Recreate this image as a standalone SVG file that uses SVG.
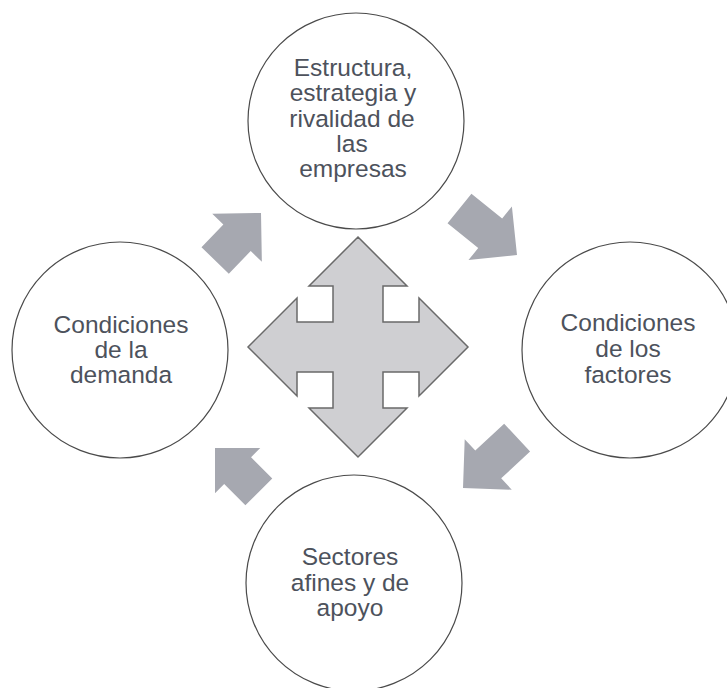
<svg xmlns="http://www.w3.org/2000/svg" width="727" height="688" viewBox="0 0 727 688">
<style>
.node circle{fill:#ffffff;stroke:#4a4a4a;stroke-width:1.2}
.lbl{font-family:"Liberation Sans",Arial,sans-serif;font-size:24.5px;fill:#4d525c;text-anchor:middle}
.arr{fill:#a6a8b0}
.cross{fill:#cfcfd2;stroke:#6a6a6a;stroke-width:1.5;stroke-linejoin:miter}
</style>
<rect width="727" height="688" fill="#ffffff"/>
<g id="connectors">
<polygon class="cross" points="358,237 407,286 383,286 383,322 419,322 419,298 468,347 419,396 419,372 383,372 383,408 407,408 358,457 309,408 333,408 333,372 297,372 297,396 248,347 297,298 297,322 333,322 333,286 309,286"/>
<polygon class="arr" transform="translate(261,213) rotate(-46)" points="0,0 -34.5,-34.5 -34.5,-19 -66,-19 -66,19 -34.5,19 -34.5,34.5"/>
<polygon class="arr" transform="translate(517,255) rotate(39)" points="0,0 -34.5,-34.5 -34.5,-19 -74,-19 -74,19 -34.5,19 -34.5,34.5"/>
<polygon class="arr" transform="translate(463,488) rotate(137)" points="0,0 -34.5,-34.5 -34.5,-19 -74,-19 -74,19 -34.5,19 -34.5,34.5"/>
<polygon class="arr" transform="translate(215,448) rotate(-135)" points="0,0 -32,-32 -32,-19 -62,-19 -62,19 -32,19 -32,32"/>
</g>
<g id="node-top" class="node">
<circle cx="356" cy="121" r="108"/>
<text class="lbl" x="353" y="76">Estructura,</text>
<text class="lbl" x="353" y="101">estrategia y</text>
<text class="lbl" x="352" y="127">rivalidad de</text>
<text class="lbl" x="352" y="152">las</text>
<text class="lbl" x="353" y="177">empresas</text>
</g>
<g id="node-left" class="node">
<circle cx="120" cy="350" r="108"/>
<text class="lbl" x="121" y="333">Condiciones</text>
<text class="lbl" x="121" y="358">de la</text>
<text class="lbl" x="121" y="383">demanda</text>
</g>
<g id="node-right" class="node">
<circle cx="630" cy="350" r="108"/>
<text class="lbl" x="628" y="331">Condiciones</text>
<text class="lbl" x="628" y="357">de los</text>
<text class="lbl" x="628" y="383">factores</text>
</g>
<g id="node-bottom" class="node">
<circle cx="354" cy="583" r="108"/>
<text class="lbl" x="350" y="565">Sectores</text>
<text class="lbl" x="350" y="591">afines y de</text>
<text class="lbl" x="350" y="616">apoyo</text>
</g>
</svg>
